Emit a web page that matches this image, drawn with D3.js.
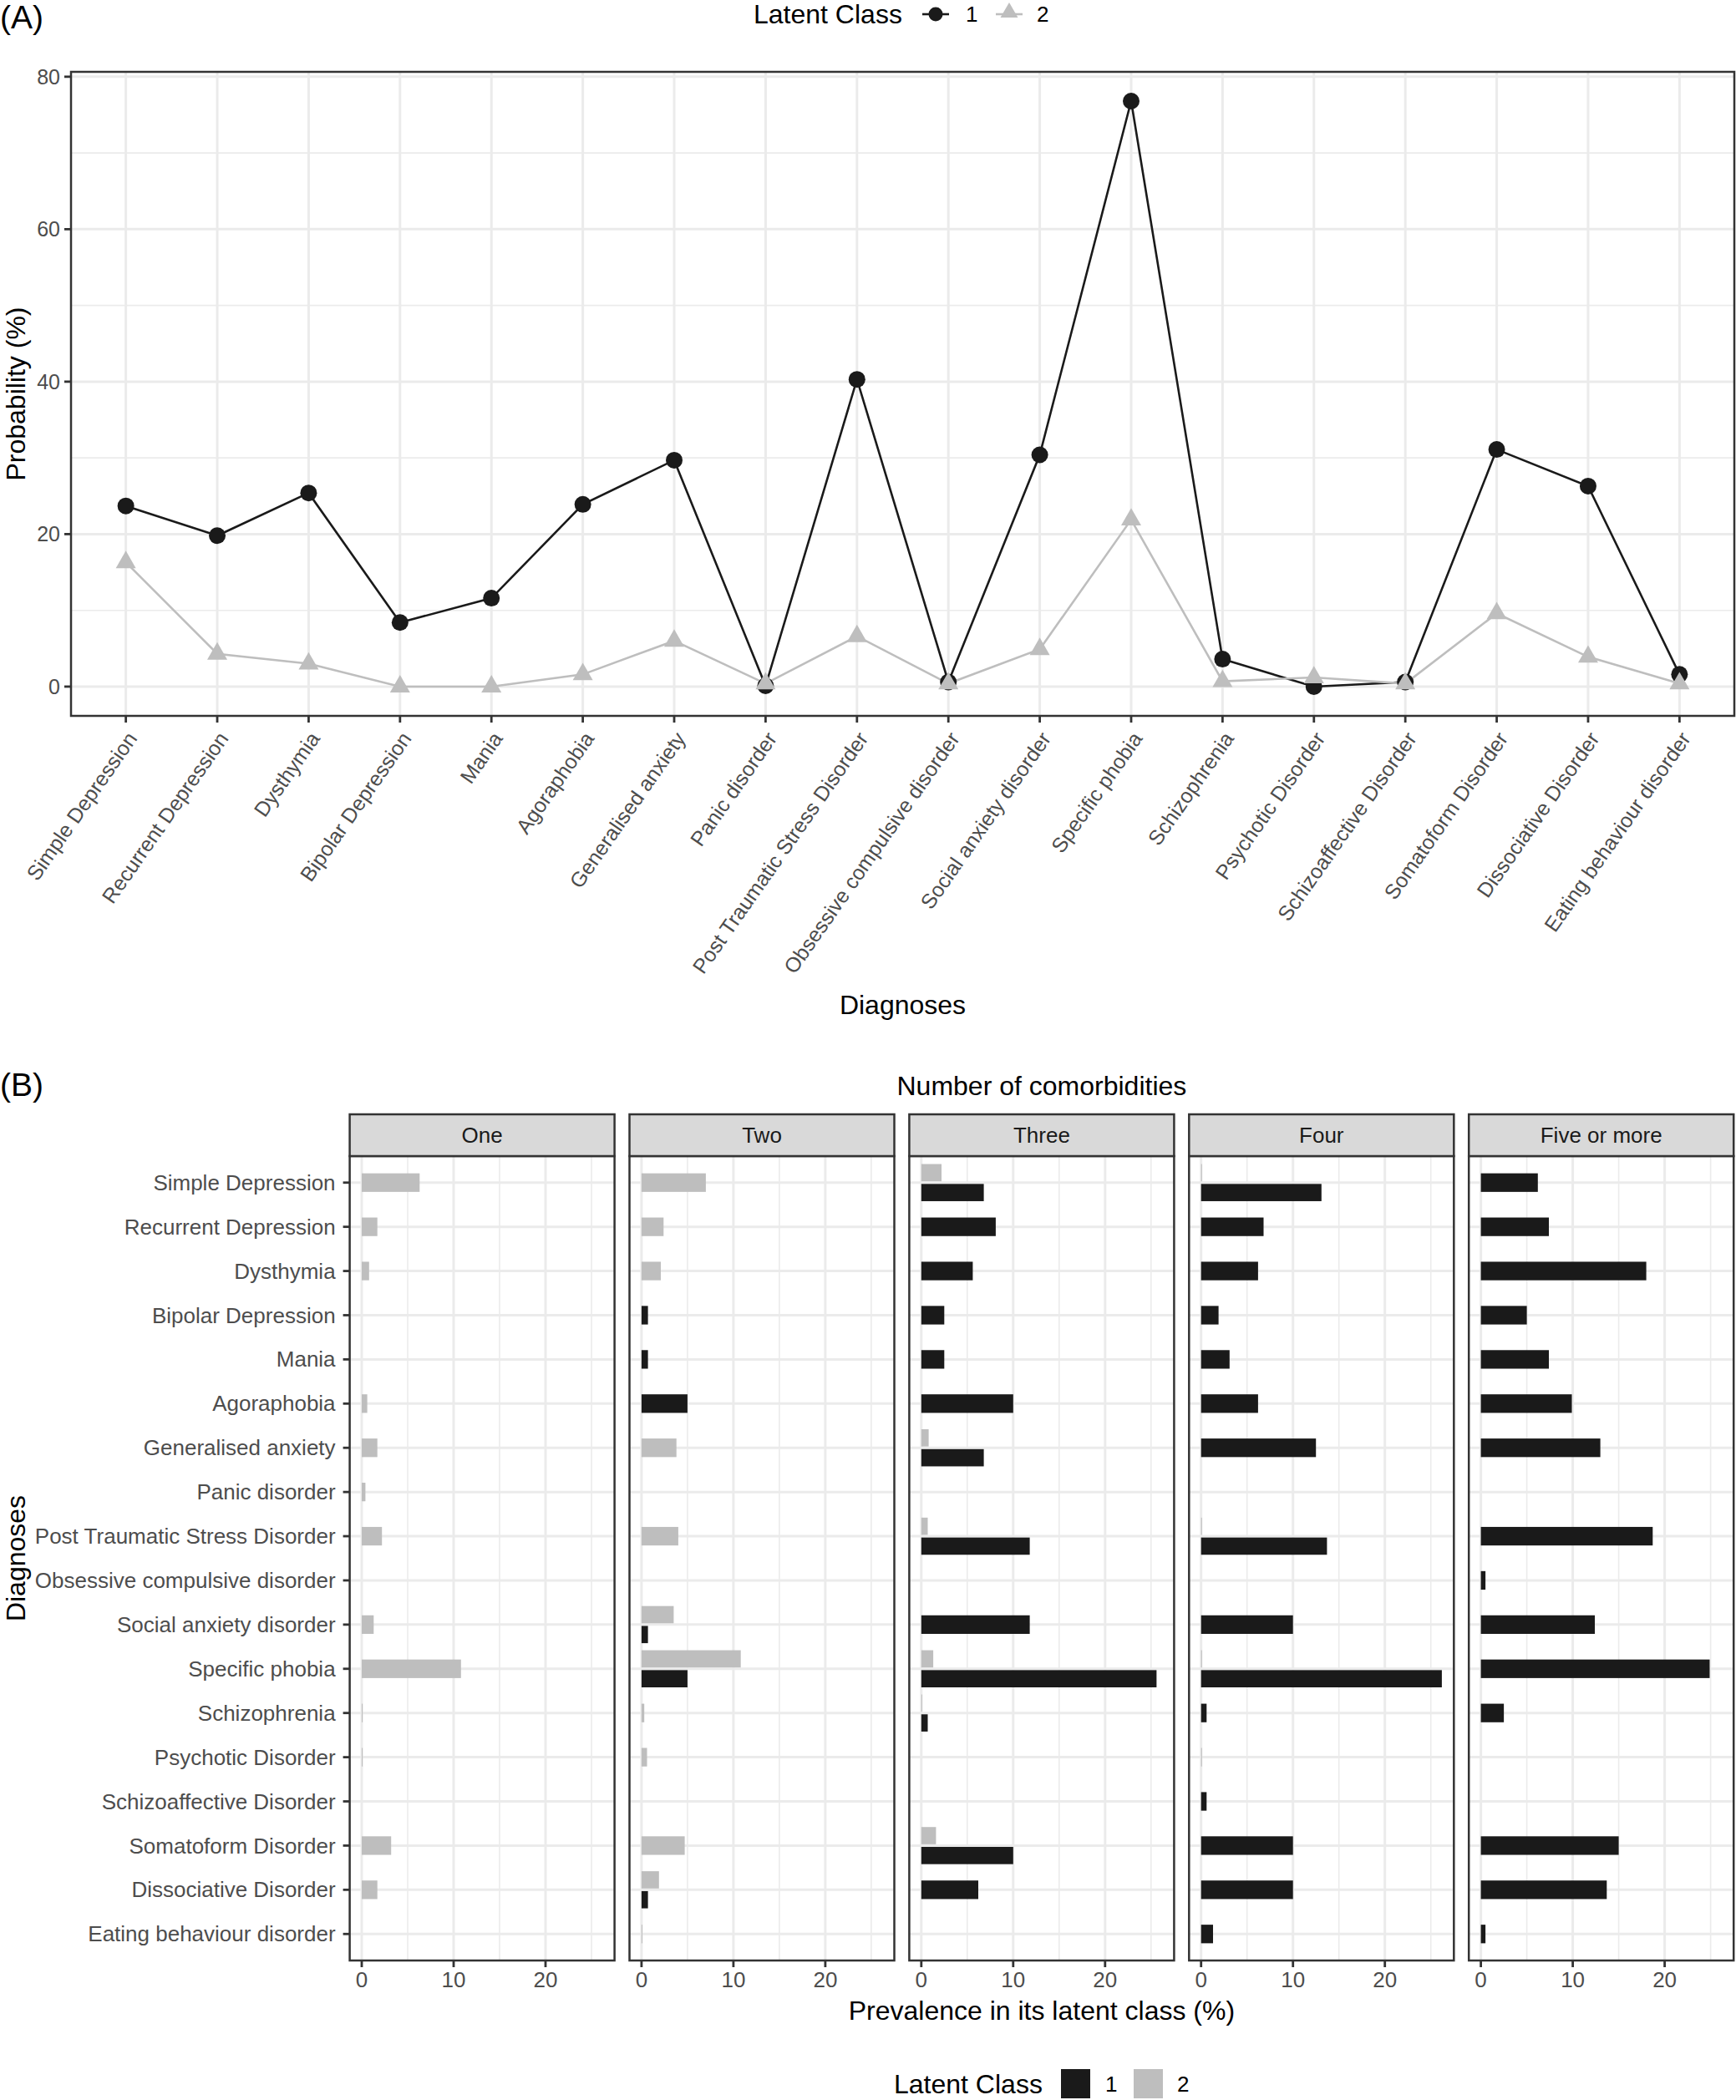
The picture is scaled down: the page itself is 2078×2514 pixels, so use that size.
<!DOCTYPE html>
<html>
<head>
<meta charset="utf-8">
<script src="https://cdn.jsdelivr.net/npm/d3@7"></script>
<style>
body { margin: 0; background: #fff; }
text { font-family: "Liberation Sans", Arial, Helvetica, sans-serif; }
</style>
</head>
<body>
<div id="chart"></div>
<script>
// diagnoses, in the order used on both panels
var diagnoses = ["Simple Depression", "Recurrent Depression", "Dysthymia", "Bipolar Depression", "Mania",
  "Agoraphobia", "Generalised anxiety", "Panic disorder", "Post Traumatic Stress Disorder",
  "Obsessive compulsive disorder", "Social anxiety disorder", "Specific phobia", "Schizophrenia",
  "Psychotic Disorder", "Schizoaffective Disorder", "Somatoform Disorder", "Dissociative Disorder",
  "Eating behaviour disorder"];

// panel A : probability (%) per latent class
var probClass1 = [23.7, 19.8, 25.4, 8.4, 11.6, 23.9, 29.7, 0.1, 40.3, 0.6, 30.4, 76.8, 3.6, 0.0, 0.6, 31.1, 26.3, 1.6];
var probClass2 = [16.3, 4.3, 3.0, 0.0, 0.0, 1.6, 6.0, 0.4, 6.6, 0.4, 4.9, 21.9, 0.7, 1.2, 0.4, 9.6, 3.9, 0.4];
var yTicksA = [0, 20, 40, 60, 80];
var yMinorA = [10, 30, 50, 70];

// panel B : prevalence in its latent class (%), one row per facet, null = no bar
var facets = ["One", "Two", "Three", "Four", "Five or more"];
var prevClass1 = [
  [null, null, null, null, null, null, null, null, null, null, null, null, null, null, null, null, null, null],
  [null, null, null, 0.7, 0.7, 5.0, null, null, null, null, 0.7, 5.0, null, null, null, null, 0.7, null],
  [6.8, 8.1, 5.6, 2.5, 2.5, 10.0, 6.8, null, 11.8, null, 11.8, 25.6, 0.7, null, null, 10.0, 6.2, null],
  [13.1, 6.8, 6.2, 1.9, 3.1, 6.2, 12.5, null, 13.7, null, 10.0, 26.2, 0.6, null, 0.6, 10.0, 10.0, 1.3],
  [6.2, 7.4, 18.0, 5.0, 7.4, 9.9, 13.0, null, 18.7, 0.5, 12.4, 24.9, 2.5, null, null, 15.0, 13.7, 0.5]
];
var prevClass2 = [
  [6.3, 1.7, 0.8, null, null, 0.6, 1.7, 0.4, 2.2, null, 1.3, 10.8, 0.1, 0.1, null, 3.2, 1.7, null],
  [7.0, 2.4, 2.1, null, null, null, 3.8, null, 4.0, null, 3.5, 10.8, 0.3, 0.6, null, 4.7, 1.9, 0.1],
  [2.2, null, null, null, null, null, 0.8, null, 0.7, null, null, 1.3, 0.1, null, null, 1.6, null, null],
  [0.1, null, null, null, null, null, null, null, 0.1, null, null, 0.1, null, 0.1, null, null, null, null],
  [null, null, null, null, null, null, null, null, null, null, null, null, null, null, null, null, null, null]
];
var xTicksB = [0, 10, 20];
var xMinorB = [5, 15, 25];

var W = 2078, H = 2514;
var col1 = "#1a1a1a", col2 = "#bebebe";
var gridCol = "#ebebeb", borderCol = "#333333", tickTxt = "#4d4d4d";

var svg = d3.select("#chart").append("svg").attr("width", W).attr("height", H);
svg.append("rect").attr("width", W).attr("height", H).attr("fill", "#fff");

// ---------------- panel A ----------------
var pA = { left: 85, right: 2076, top: 86, bottom: 857 };
var allA = probClass1.concat(probClass2);
var aMin = d3.min(allA), aMax = d3.max(allA), aPad = (aMax - aMin) * 0.05;
var xA = d3.scalePoint().domain(diagnoses).range([pA.left, pA.right]).padding(0.6);
var yA = d3.scaleLinear().domain([aMin - aPad, aMax + aPad]).range([pA.bottom, pA.top]);

var gA = svg.append("g");
gA.selectAll(".minor").data(yMinorA).enter().append("line")
  .attr("x1", pA.left).attr("x2", pA.right)
  .attr("y1", function (d) { return yA(d); }).attr("y2", function (d) { return yA(d); })
  .attr("stroke", gridCol).attr("stroke-width", 1.6);
gA.selectAll(".majory").data(yTicksA).enter().append("line")
  .attr("x1", pA.left).attr("x2", pA.right)
  .attr("y1", function (d) { return yA(d); }).attr("y2", function (d) { return yA(d); })
  .attr("stroke", gridCol).attr("stroke-width", 3);
gA.selectAll(".majorx").data(diagnoses).enter().append("line")
  .attr("x1", function (d) { return xA(d); }).attr("x2", function (d) { return xA(d); })
  .attr("y1", pA.top).attr("y2", pA.bottom)
  .attr("stroke", gridCol).attr("stroke-width", 3);

var lineA = d3.line().x(function (d, i) { return xA(diagnoses[i]); }).y(function (d) { return yA(d); });
gA.append("path").datum(probClass1).attr("d", lineA).attr("fill", "none").attr("stroke", col1).attr("stroke-width", 2.6);
gA.append("path").datum(probClass2).attr("d", lineA).attr("fill", "none").attr("stroke", col2).attr("stroke-width", 2.6);

gA.selectAll(".pt1").data(probClass1).enter().append("circle")
  .attr("cx", function (d, i) { return xA(diagnoses[i]); })
  .attr("cy", function (d) { return yA(d); })
  .attr("r", 10).attr("fill", col1);
var tri = d3.symbol().type(d3.symbolTriangle).size(250);
gA.selectAll(".pt2").data(probClass2).enter().append("path")
  .attr("d", tri)
  .attr("transform", function (d, i) { return "translate(" + xA(diagnoses[i]) + "," + yA(d) + ")"; })
  .attr("fill", col2);

gA.append("rect").attr("x", pA.left).attr("y", pA.top)
  .attr("width", pA.right - pA.left).attr("height", pA.bottom - pA.top)
  .attr("fill", "none").attr("stroke", borderCol).attr("stroke-width", 2.5);

// axes A
gA.selectAll(".ytk").data(yTicksA).enter().append("line")
  .attr("x1", pA.left - 8).attr("x2", pA.left)
  .attr("y1", function (d) { return yA(d); }).attr("y2", function (d) { return yA(d); })
  .attr("stroke", borderCol).attr("stroke-width", 2.8);
gA.selectAll(".ytl").data(yTicksA).enter().append("text")
  .attr("x", pA.left - 13).attr("y", function (d) { return yA(d); })
  .attr("dy", "0.35em").attr("text-anchor", "end")
  .attr("font-size", 25).attr("fill", tickTxt).text(function (d) { return d; });
gA.selectAll(".xtk").data(diagnoses).enter().append("line")
  .attr("x1", function (d) { return xA(d); }).attr("x2", function (d) { return xA(d); })
  .attr("y1", pA.bottom).attr("y2", pA.bottom + 8)
  .attr("stroke", borderCol).attr("stroke-width", 2.8);
gA.selectAll(".xtl").data(diagnoses).enter().append("text")
  .attr("transform", function (d) { return "translate(" + xA(d) + "," + (pA.bottom + 17) + ") rotate(-55)"; })
  .attr("dy", "0.71em").attr("text-anchor", "end")
  .attr("font-size", 25).attr("fill", tickTxt).text(function (d) { return d; });

gA.append("text").attr("transform", "translate(19," + ((pA.top + pA.bottom) / 2) + ") rotate(-90)")
  .attr("dy", "0.35em").attr("text-anchor", "middle").attr("font-size", 32).attr("fill", "#000")
  .text("Probability (%)");
gA.append("text").attr("x", (pA.left + pA.right) / 2).attr("y", 1203).attr("dy", "0.35em")
  .attr("text-anchor", "middle").attr("font-size", 32).attr("fill", "#000").text("Diagnoses");
svg.append("text").attr("x", 0).attr("y", 20).attr("dy", "0.35em")
  .attr("font-size", 39).attr("fill", "#000").text("(A)");

// legend A
var legA = svg.append("g");
legA.append("text").attr("x", 902).attr("y", 17).attr("dy", "0.35em").attr("font-size", 32).attr("fill", "#000").text("Latent Class");
legA.append("line").attr("x1", 1104).attr("x2", 1136).attr("y1", 17).attr("y2", 17).attr("stroke", col1).attr("stroke-width", 2.6);
legA.append("circle").attr("cx", 1120).attr("cy", 17).attr("r", 8.5).attr("fill", col1);
legA.append("text").attr("x", 1156).attr("y", 17).attr("dy", "0.35em").attr("font-size", 26).attr("fill", "#000").text("1");
legA.append("line").attr("x1", 1192).attr("x2", 1224).attr("y1", 17).attr("y2", 17).attr("stroke", col2).attr("stroke-width", 2.6);
legA.append("path").attr("d", d3.symbol().type(d3.symbolTriangle).size(190)).attr("transform", "translate(1208,15)").attr("fill", col2);
legA.append("text").attr("x", 1241).attr("y", 17).attr("dy", "0.35em").attr("font-size", 26).attr("fill", "#000").text("2");

// ---------------- panel B ----------------
var pB = { top: 1384, bottom: 2347, left: 418.6, width: 317, gap: 17.9, stripTop: 1334 };
var allB = d3.merge(prevClass1.concat(prevClass2)).filter(function (v) { return v !== null; });
var bMax = d3.max(allB), bPad = bMax * 0.05;
var yB = d3.scalePoint().domain(diagnoses).range([pB.top, pB.bottom]).padding(0.6);
var step = yB.step();

svg.append("text").attr("x", 0).attr("y", 1298).attr("dy", "0.35em")
  .attr("font-size", 39).attr("fill", "#000").text("(B)");

facets.forEach(function (f, fi) {
  var x0 = pB.left + fi * (pB.width + pB.gap);
  var xB = d3.scaleLinear().domain([-bPad, bMax + bPad]).range([x0, x0 + pB.width]);
  var g = svg.append("g");

  g.selectAll(".minor").data(xMinorB).enter().append("line")
    .attr("x1", function (d) { return xB(d); }).attr("x2", function (d) { return xB(d); })
    .attr("y1", pB.top).attr("y2", pB.bottom).attr("stroke", gridCol).attr("stroke-width", 1.6);
  g.selectAll(".majx").data(xTicksB).enter().append("line")
    .attr("x1", function (d) { return xB(d); }).attr("x2", function (d) { return xB(d); })
    .attr("y1", pB.top).attr("y2", pB.bottom).attr("stroke", gridCol).attr("stroke-width", 3);
  g.selectAll(".majy").data(diagnoses).enter().append("line")
    .attr("x1", x0).attr("x2", x0 + pB.width)
    .attr("y1", function (d) { return yB(d); }).attr("y2", function (d) { return yB(d); })
    .attr("stroke", gridCol).attr("stroke-width", 3);

  // bars, dodged when both classes are present in a row
  var bars = [];
  diagnoses.forEach(function (d, i) {
    var v1 = prevClass1[fi][i], v2 = prevClass2[fi][i];
    var yc = yB(d);
    if (v1 !== null && v2 !== null) {
      bars.push({ v: v2, c: col2, y: yc - 0.225 * step, h: 0.39 * step });
      bars.push({ v: v1, c: col1, y: yc + 0.225 * step, h: 0.39 * step });
    } else if (v1 !== null) {
      bars.push({ v: v1, c: col1, y: yc, h: 0.42 * step });
    } else if (v2 !== null) {
      bars.push({ v: v2, c: col2, y: yc, h: 0.42 * step });
    }
  });
  g.selectAll(".bar").data(bars).enter().append("rect")
    .attr("x", xB(0)).attr("width", function (d) { return Math.max(0.8, xB(d.v) - xB(0)); })
    .attr("y", function (d) { return d.y - d.h / 2; }).attr("height", function (d) { return d.h; })
    .attr("fill", function (d) { return d.c; });

  g.append("rect").attr("x", x0).attr("y", pB.top).attr("width", pB.width).attr("height", pB.bottom - pB.top)
    .attr("fill", "none").attr("stroke", borderCol).attr("stroke-width", 2.5);

  // strip
  g.append("rect").attr("x", x0).attr("y", pB.stripTop).attr("width", pB.width).attr("height", pB.top - pB.stripTop)
    .attr("fill", "#d9d9d9").attr("stroke", borderCol).attr("stroke-width", 2.5);
  g.append("text").attr("x", x0 + pB.width / 2).attr("y", (pB.stripTop + pB.top) / 2).attr("dy", "0.35em")
    .attr("text-anchor", "middle").attr("font-size", 26).attr("fill", col1).text(f);

  // x axis
  g.selectAll(".xtk").data(xTicksB).enter().append("line")
    .attr("x1", function (d) { return xB(d); }).attr("x2", function (d) { return xB(d); })
    .attr("y1", pB.bottom).attr("y2", pB.bottom + 8).attr("stroke", borderCol).attr("stroke-width", 2.8);
  g.selectAll(".xtl").data(xTicksB).enter().append("text")
    .attr("x", function (d) { return xB(d); }).attr("y", pB.bottom + 14).attr("dy", "0.71em")
    .attr("text-anchor", "middle").attr("font-size", 26).attr("fill", tickTxt).text(function (d) { return d; });

  if (fi === 0) {
    g.selectAll(".ytk").data(diagnoses).enter().append("line")
      .attr("x1", x0 - 8).attr("x2", x0)
      .attr("y1", function (d) { return yB(d); }).attr("y2", function (d) { return yB(d); })
      .attr("stroke", borderCol).attr("stroke-width", 2.8);
    g.selectAll(".ytl").data(diagnoses).enter().append("text")
      .attr("x", x0 - 17).attr("y", function (d) { return yB(d); }).attr("dy", "0.35em")
      .attr("text-anchor", "end").attr("font-size", 26).attr("fill", tickTxt).text(function (d) { return d; });
  }
});

var bMid = pB.left + (5 * pB.width + 4 * pB.gap) / 2;
svg.append("text").attr("x", bMid).attr("y", 1300).attr("dy", "0.35em").attr("text-anchor", "middle")
  .attr("font-size", 32).attr("fill", "#000").text("Number of comorbidities");
svg.append("text").attr("x", bMid).attr("y", 2407).attr("dy", "0.35em").attr("text-anchor", "middle")
  .attr("font-size", 32).attr("fill", "#000").text("Prevalence in its latent class (%)");
svg.append("text").attr("transform", "translate(19," + ((pB.top + pB.bottom) / 2) + ") rotate(-90)")
  .attr("dy", "0.35em").attr("text-anchor", "middle").attr("font-size", 32).attr("fill", "#000").text("Diagnoses");

// legend B
var legB = svg.append("g");
legB.append("text").attr("x", 1070).attr("y", 2495).attr("dy", "0.35em").attr("font-size", 32).attr("fill", "#000").text("Latent Class");
legB.append("rect").attr("x", 1270).attr("y", 2477).attr("width", 35).attr("height", 35).attr("fill", col1);
legB.append("text").attr("x", 1323).attr("y", 2495).attr("dy", "0.35em").attr("font-size", 26).attr("fill", "#000").text("1");
legB.append("rect").attr("x", 1357).attr("y", 2477).attr("width", 35).attr("height", 35).attr("fill", col2);
legB.append("text").attr("x", 1409).attr("y", 2495).attr("dy", "0.35em").attr("font-size", 26).attr("fill", "#000").text("2");
</script>
</body>
</html>
